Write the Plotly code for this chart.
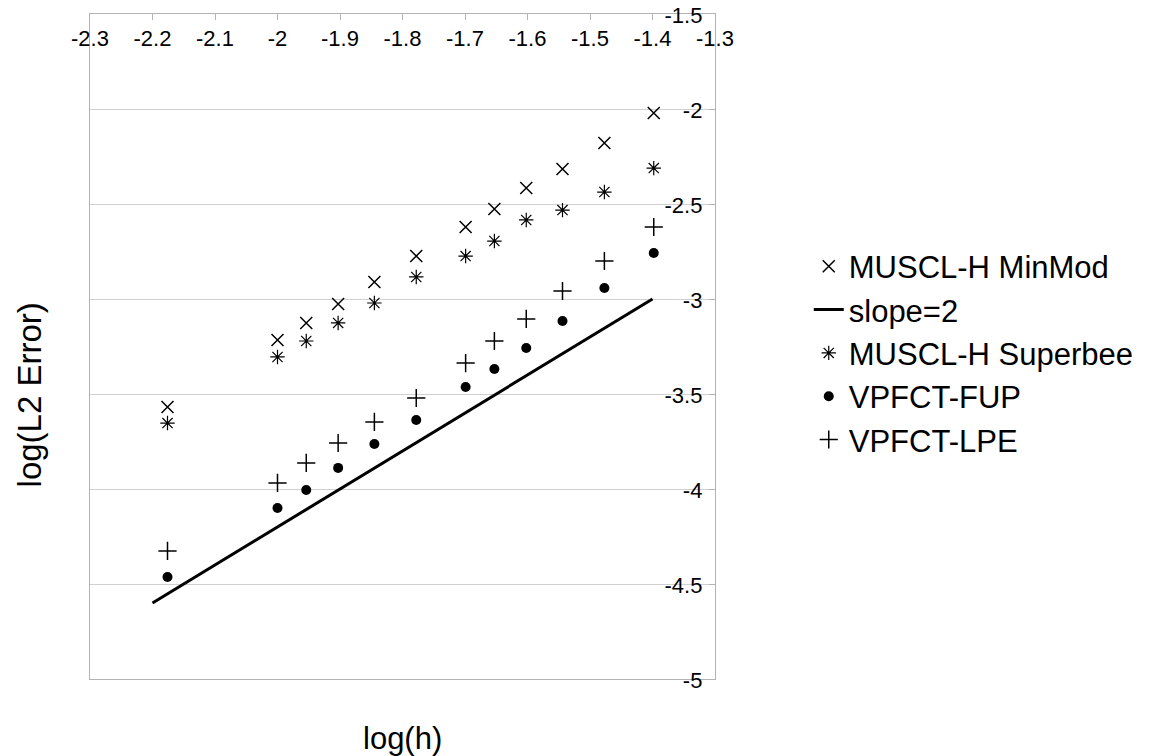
import plotly.graph_objects as go

# log(h) values
log_h = [-2.176, -2.0, -1.954, -1.903, -1.845, -1.778, -1.699, -1.653, -1.602, -1.544, -1.477, -1.398]

minmod = [-3.568, -3.216, -3.126, -3.026, -2.911, -2.774, -2.621, -2.526, -2.416, -2.316, -2.179, -2.021]
superbee = [-3.653, -3.305, -3.221, -3.126, -3.021, -2.884, -2.774, -2.695, -2.584, -2.532, -2.437, -2.311]
fup = [-4.463, -4.100, -4.005, -3.889, -3.763, -3.637, -3.463, -3.368, -3.258, -3.116, -2.942, -2.758]
lpe = [-4.326, -3.968, -3.863, -3.758, -3.647, -3.521, -3.337, -3.221, -3.105, -2.958, -2.800, -2.621]

slope_x = [-2.2, -1.4]
slope_y = [-4.6, -3.0]

x_tick_vals = [-2.3, -2.2, -2.1, -2.0, -1.9, -1.8, -1.7, -1.6, -1.5, -1.4, -1.3]
x_tick_text = ["-2.3", "-2.2", "-2.1", "-2", "-1.9", "-1.8", "-1.7", "-1.6", "-1.5", "-1.4", "-1.3"]
y_tick_vals = [-5.0, -4.5, -4.0, -3.5, -3.0, -2.5, -2.0, -1.5]
y_tick_text = ["-5", "-4.5", "-4", "-3.5", "-3", "-2.5", "-2", "-1.5"]

FONT = "Liberation Sans, Arial, sans-serif"
AXIS_GRAY = "#b3b3b3"
GRID_GRAY = "#d0d0d0"

fig = go.Figure()
fig.add_trace(go.Scatter(x=log_h, y=minmod, mode="markers", name="MUSCL-H MinMod",
                         marker=dict(symbol="x-thin-open", size=12, color="black",
                                     line=dict(width=1.5, color="black"))))
fig.add_trace(go.Scatter(x=slope_x, y=slope_y, mode="lines", name="slope=2",
                         line=dict(color="black", width=3)))
fig.add_trace(go.Scatter(x=log_h, y=superbee, mode="markers", name="MUSCL-H Superbee",
                         marker=dict(symbol="asterisk-open", size=12, color="black",
                                     line=dict(width=1.2, color="black"))))
fig.add_trace(go.Scatter(x=log_h, y=fup, mode="markers", name="VPFCT-FUP",
                         marker=dict(symbol="circle", size=10, color="black")))
fig.add_trace(go.Scatter(x=log_h, y=lpe, mode="markers", name="VPFCT-LPE",
                         marker=dict(symbol="cross-thin-open", size=13, color="black",
                                     line=dict(width=1.5, color="black"))))

fig.update_layout(
    width=1168, height=756,
    margin=dict(l=90, r=453, t=14, b=77, autoexpand=False),
    paper_bgcolor="white", plot_bgcolor="white",
    font=dict(family=FONT, color="black", size=20),
    showlegend=True,
    legend=dict(x=1.15, y=0.49, xanchor="left", yanchor="middle",
                font=dict(size=31, family=FONT, color="black"),
                tracegroupgap=0, itemwidth=30, bgcolor="rgba(0,0,0,0)"),
    xaxis=dict(range=[-2.3, -1.3], side="top", tickvals=x_tick_vals, ticktext=x_tick_text,
               ticks="inside", ticklen=6, tickcolor=AXIS_GRAY, tickwidth=1,
               ticklabelposition="inside", ticklabeloverflow="allow", ticklabelstandoff=12,
               showline=True, linecolor=AXIS_GRAY, linewidth=1, mirror=True,
               showgrid=False, zeroline=False, automargin=False,
               tickfont=dict(size=22, family=FONT, color="black")),
    yaxis=dict(range=[-5, -1.5], side="right", tickvals=y_tick_vals, ticktext=y_tick_text,
               ticks="inside", ticklen=6, tickcolor=AXIS_GRAY, tickwidth=1,
               ticklabelposition="inside", ticklabeloverflow="allow", ticklabelstandoff=8,
               ticklabelshift=1,
               showline=True, linecolor=AXIS_GRAY, linewidth=1, mirror=True,
               showgrid=True, gridcolor=GRID_GRAY, gridwidth=1, zeroline=False, automargin=False,
               tickfont=dict(size=22, family=FONT, color="black")),
    annotations=[
        dict(text="log(h)", xref="paper", yref="paper", x=0.5, y=-0.089,
             xanchor="center", yanchor="middle", showarrow=False,
             font=dict(size=31, family=FONT, color="black")),
        dict(text="log(L2 Error)", xref="paper", yref="paper", x=-0.097, y=0.427,
             xanchor="center", yanchor="middle", textangle=-90, showarrow=False,
             font=dict(size=33, family=FONT, color="black")),
    ],
)

fig.write_html("out.html",
               config={"displayModeBar": False},
               post_script="document.body.style.margin='0';document.body.style.overflow='hidden';")
